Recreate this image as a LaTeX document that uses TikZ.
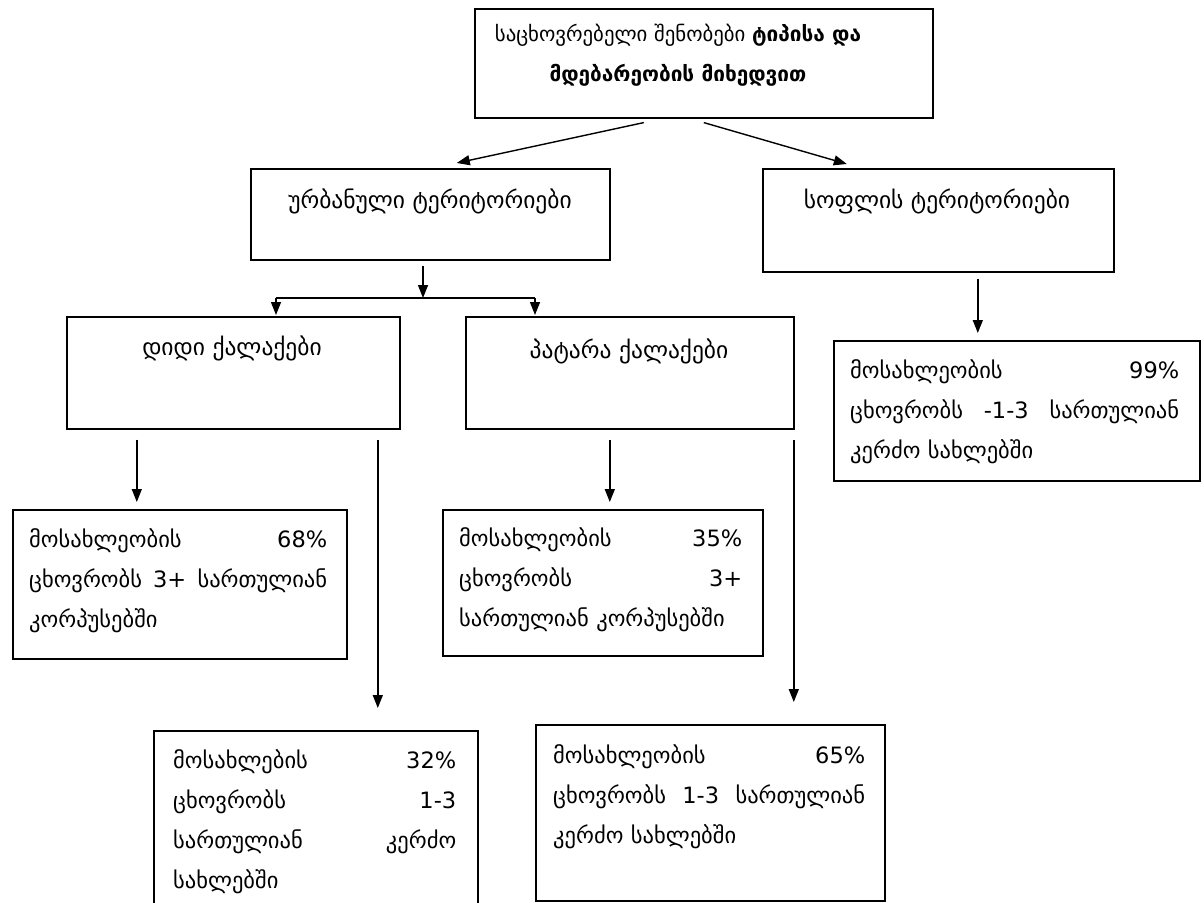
\documentclass[tikz,border=0pt]{standalone}
\usepackage{fontspec}
\setmainfont{DejaVu Sans}
\usetikzlibrary{arrows.meta,calc}
\begin{document}
\begin{tikzpicture}[x=1pt,y=-1pt,
  box/.style={draw, line width=1.6pt, rectangle, inner sep=0pt, anchor=north west},
  txt/.style={font=\fontsize{23.5}{40}\selectfont, inner sep=0pt},
  toptxt/.style={font=\fontsize{20.8}{40}\selectfont, inner sep=0pt, align=center},
  info/.style={font=\fontsize{22.5}{40}\selectfont, inner sep=0pt, align=left, anchor=north west, text width=#1},
  arr/.style={line width=1.4pt, -{Triangle[length=13pt,width=10pt]}}
]
\useasboundingbox (0,0) rectangle (1204,902);
\clip (0,0) rectangle (1204,902);
\fill[white] (0,0) rectangle (1204,902);

% boxes
\node[box, minimum width=458pt, minimum height=109pt] (top)   at (474,8)   {};
\node[box, minimum width=359pt, minimum height=91pt]  (urban) at (250,168) {};
\node[box, minimum width=351pt, minimum height=103pt] (rural) at (762,168) {};
\node[box, minimum width=333pt, minimum height=112pt] (big)   at (66,316)  {};
\node[box, minimum width=328pt, minimum height=112pt] (small) at (465,316) {};
\node[box, minimum width=366pt, minimum height=140pt] (rinfo) at (833,340) {};
\node[box, minimum width=334pt, minimum height=149pt] (b68)   at (12,509)  {};
\node[box, minimum width=320pt, minimum height=146pt] (s35)   at (442,509) {};
\node[box, minimum width=324pt, minimum height=190pt] (b32)   at (153,730) {};
\node[box, minimum width=349pt, minimum height=176pt] (s65)   at (535,724) {};

% texts
\node[toptxt] (ttop) at (678,55)
  {საცხოვრებელი შენობები \textbf{ტიპისა და}\\\textbf{მდებარეობის მიხედვით}};
\node[txt] (turban) at (430,201) {ურბანული ტერიტორიები};
\node[txt] (trural) at (937,201) {სოფლის ტერიტორიები};
\node[txt] (tbig)   at (232,348) {დიდი ქალაქები};
\node[txt] (tsmall) at (629,351) {პატარა ქალაქები};

\node[info=329pt] (trinfo) at (850,359)
  {მოსახლეობის\hfill 99\%\\ცხოვრობს\hfill -1-3\hfill სართულიან\\კერძო სახლებში};
\node[info=298pt] (tb68) at (29,528)
  {მოსახლეობის\hfill 68\%\\ცხოვრობს\hfill 3+\hfill სართულიან\\კორპუსებში};
\node[info=283pt] (ts35) at (459,527)
  {მოსახლეობის\hfill 35\%\\ცხოვრობს\hfill 3+\\სართულიან კორპუსებში};
\node[info=283pt] (tb32) at (173,749)
  {მოსახლების\hfill 32\%\\ცხოვრობს\hfill 1-3\\სართულიან\hfill კერძო\\სახლებში};
\node[info=312pt] (ts65) at (553,744)
  {მოსახლეობის\hfill 65\%\\ცხოვრობს\hfill 1-3\hfill სართულიან\\კერძო სახლებში};

% connectors
\draw[arr] ([xshift=-60pt,yshift=-4pt]top.south) -- ([xshift=26.5pt,yshift=5pt]urban.north);
\draw[arr] ([yshift=-4pt]top.south) -- ([xshift=-91.5pt,yshift=4pt]rural.north);

\coordinate (J)  at (423,298);
\coordinate (JL) at (276,298);
\coordinate (JR) at (535,298);
\draw[arr] ([yshift=-5pt]urban.south -| J) -- (J);
\draw[line width=1.4pt] (JL) -- (JR);
\draw[arr] (JL) -- ([yshift=1pt]JL |- big.north);
\draw[arr] (JR) -- ([yshift=1pt]JR |- small.north);

\draw[arr] ([xshift=-96.5pt,yshift=-10pt]big.south) -- ([xshift=-43pt,yshift=7pt]b68.north);
\draw[arr] ([xshift=144.5pt,yshift=-10pt]big.south) -- ([xshift=62pt,yshift=22pt]b32.north);
\draw[arr] ([xshift=-20pt,yshift=-10pt]small.south) -- ([xshift=7pt,yshift=7pt]s35.north);
\draw[arr] ([xshift=164pt,yshift=-10pt]small.south) -- ([xshift=83.5pt,yshift=22pt]s65.north);
\draw[arr] ([xshift=39.5pt,yshift=-6pt]rural.south) -- ([xshift=-39pt,yshift=7pt]rinfo.north);
\end{tikzpicture}
\end{document}
